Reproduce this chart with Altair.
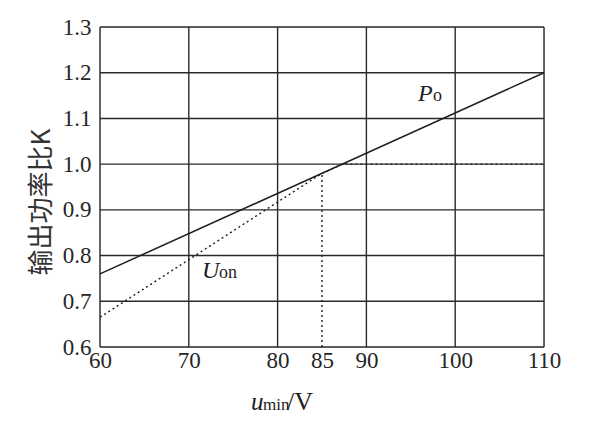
import altair as alt
import pandas as pd

# ---- data ----
x_grid = [60, 70, 80, 90, 100, 110]
y_grid = [0.6, 0.7, 0.8, 0.9, 1.0, 1.1, 1.2, 1.3]
x_ticks = [60, 70, 80, 85, 90, 100, 110]
y_ticks = [0.6, 0.7, 0.8, 0.9, 1.0, 1.1, 1.2, 1.3]

po_x = [60, 110]
po_y = [0.76, 1.2]

uon_x = [60, 85, 87.3, 110]
uon_y = [0.665, 0.98, 1.0, 1.0]

v85_x = [85, 85]
v85_y = [0.6, 0.98]

W, H = 444, 320
SERIF = "Liberation Serif"
INK = "#1e1e1e"

xs = alt.Scale(domain=[60, 110], nice=False, zero=False)
ys = alt.Scale(domain=[0.6, 1.3], nice=False, zero=False)

df_xg = pd.DataFrame({"x": x_grid})
df_yg = pd.DataFrame({"y": y_grid})
df_po = pd.DataFrame({"x": po_x, "y": po_y})
df_uon = pd.DataFrame({"x": uon_x, "y": uon_y})
df_v85 = pd.DataFrame({"x": v85_x, "y": v85_y})

xaxis = alt.Axis(values=x_ticks, title=None, grid=False, ticks=False, domain=False,
                 labelFont=SERIF, labelFontSize=23, labelColor="#262626",
                 labelPadding=2, labelFlush=False, labelOverlap=False)
yaxis = alt.Axis(values=y_ticks, title=None, grid=False, ticks=False, domain=False,
                 format=".1f", labelFont=SERIF, labelFontSize=23, labelColor="#262626",
                 labelPadding=9, labelFlush=False, labelOverlap=False)

X = lambda: alt.X("x:Q", scale=xs, axis=xaxis)
Y = lambda: alt.Y("y:Q", scale=ys, axis=yaxis)

vgrid = alt.Chart(df_xg).mark_rule(color="#2a2a2a", strokeWidth=1.4).encode(
    x=X(), y=alt.value(0), y2=alt.value(H))
hgrid = alt.Chart(df_yg).mark_rule(color="#2a2a2a", strokeWidth=1.4).encode(
    y=Y(), x=alt.value(0), x2=alt.value(W))

po_line = alt.Chart(df_po).mark_line(color=INK, strokeWidth=1.5).encode(x=X(), y=Y())
uon_line = alt.Chart(df_uon).mark_line(color=INK, strokeWidth=1.4,
                                       strokeDash=[2, 3]).encode(x=X(), y=Y())
v85_line = alt.Chart(df_v85).mark_line(color=INK, strokeWidth=1.4,
                                       strokeDash=[2, 3]).encode(x=X(), y=Y())

# curve labels
po_lab = pd.DataFrame({"x": [95.8], "y": [1.139], "main": ["P"], "sub": ["o"]})
uon_lab = pd.DataFrame({"x": [71.5], "y": [0.751], "main": ["U"], "sub": ["on"]})

def label(df, dx_sub, sub_size):
    m = alt.Chart(df).mark_text(font=SERIF, fontSize=24, fontStyle="italic",
                                align="left", baseline="alphabetic", color=INK).encode(
        x=X(), y=Y(), text="main:N")
    s = alt.Chart(df).mark_text(font=SERIF, fontSize=sub_size, align="left",
                                baseline="alphabetic", dx=dx_sub, color=INK).encode(
        x=X(), y=Y(), text="sub:N")
    return m, s

po_m, po_s = label(po_lab, 15, 18)
uon_m, uon_s = label(uon_lab, 17, 18)

# axis titles
xt_u = alt.Chart(pd.DataFrame({"t": ["u"]})).mark_text(
    font=SERIF, fontSize=25, fontStyle="italic", align="left", baseline="alphabetic",
    color=INK).encode(x=alt.value(151), y=alt.value(383), text="t:N")
xt_min = alt.Chart(pd.DataFrame({"t": ["min"]})).mark_text(
    font=SERIF, fontSize=17, align="left", baseline="alphabetic",
    color=INK).encode(x=alt.value(163), y=alt.value(383), text="t:N")
xt_v = alt.Chart(pd.DataFrame({"t": ["/V"]})).mark_text(
    font=SERIF, fontSize=26, align="left", baseline="alphabetic",
    color=INK).encode(x=alt.value(187), y=alt.value(383), text="t:N")
yt = alt.Chart(pd.DataFrame({"t": ["输出功率比K"]})).mark_text(
    font="Noto Sans CJK SC", fontSize=26, angle=270, align="center", baseline="middle",
    color="#333333").encode(x=alt.value(-58), y=alt.value(175), text="t:N")

chart = alt.layer(vgrid, hgrid, po_line, uon_line, v85_line, po_m, po_s, uon_m, uon_s,
                  xt_u, xt_min, xt_v, yt).properties(
    width=W, height=H,
    autosize=alt.AutoSizeParams(type="none"),
    padding={"left": 92, "top": 19, "right": 40, "bottom": 70},
).configure_view(stroke=None).configure_axis(
    labelFont=SERIF, labelFontSize=23
).configure(background="white")

chart.save("out.html", embed_options={"renderer": "svg", "actions": False})
